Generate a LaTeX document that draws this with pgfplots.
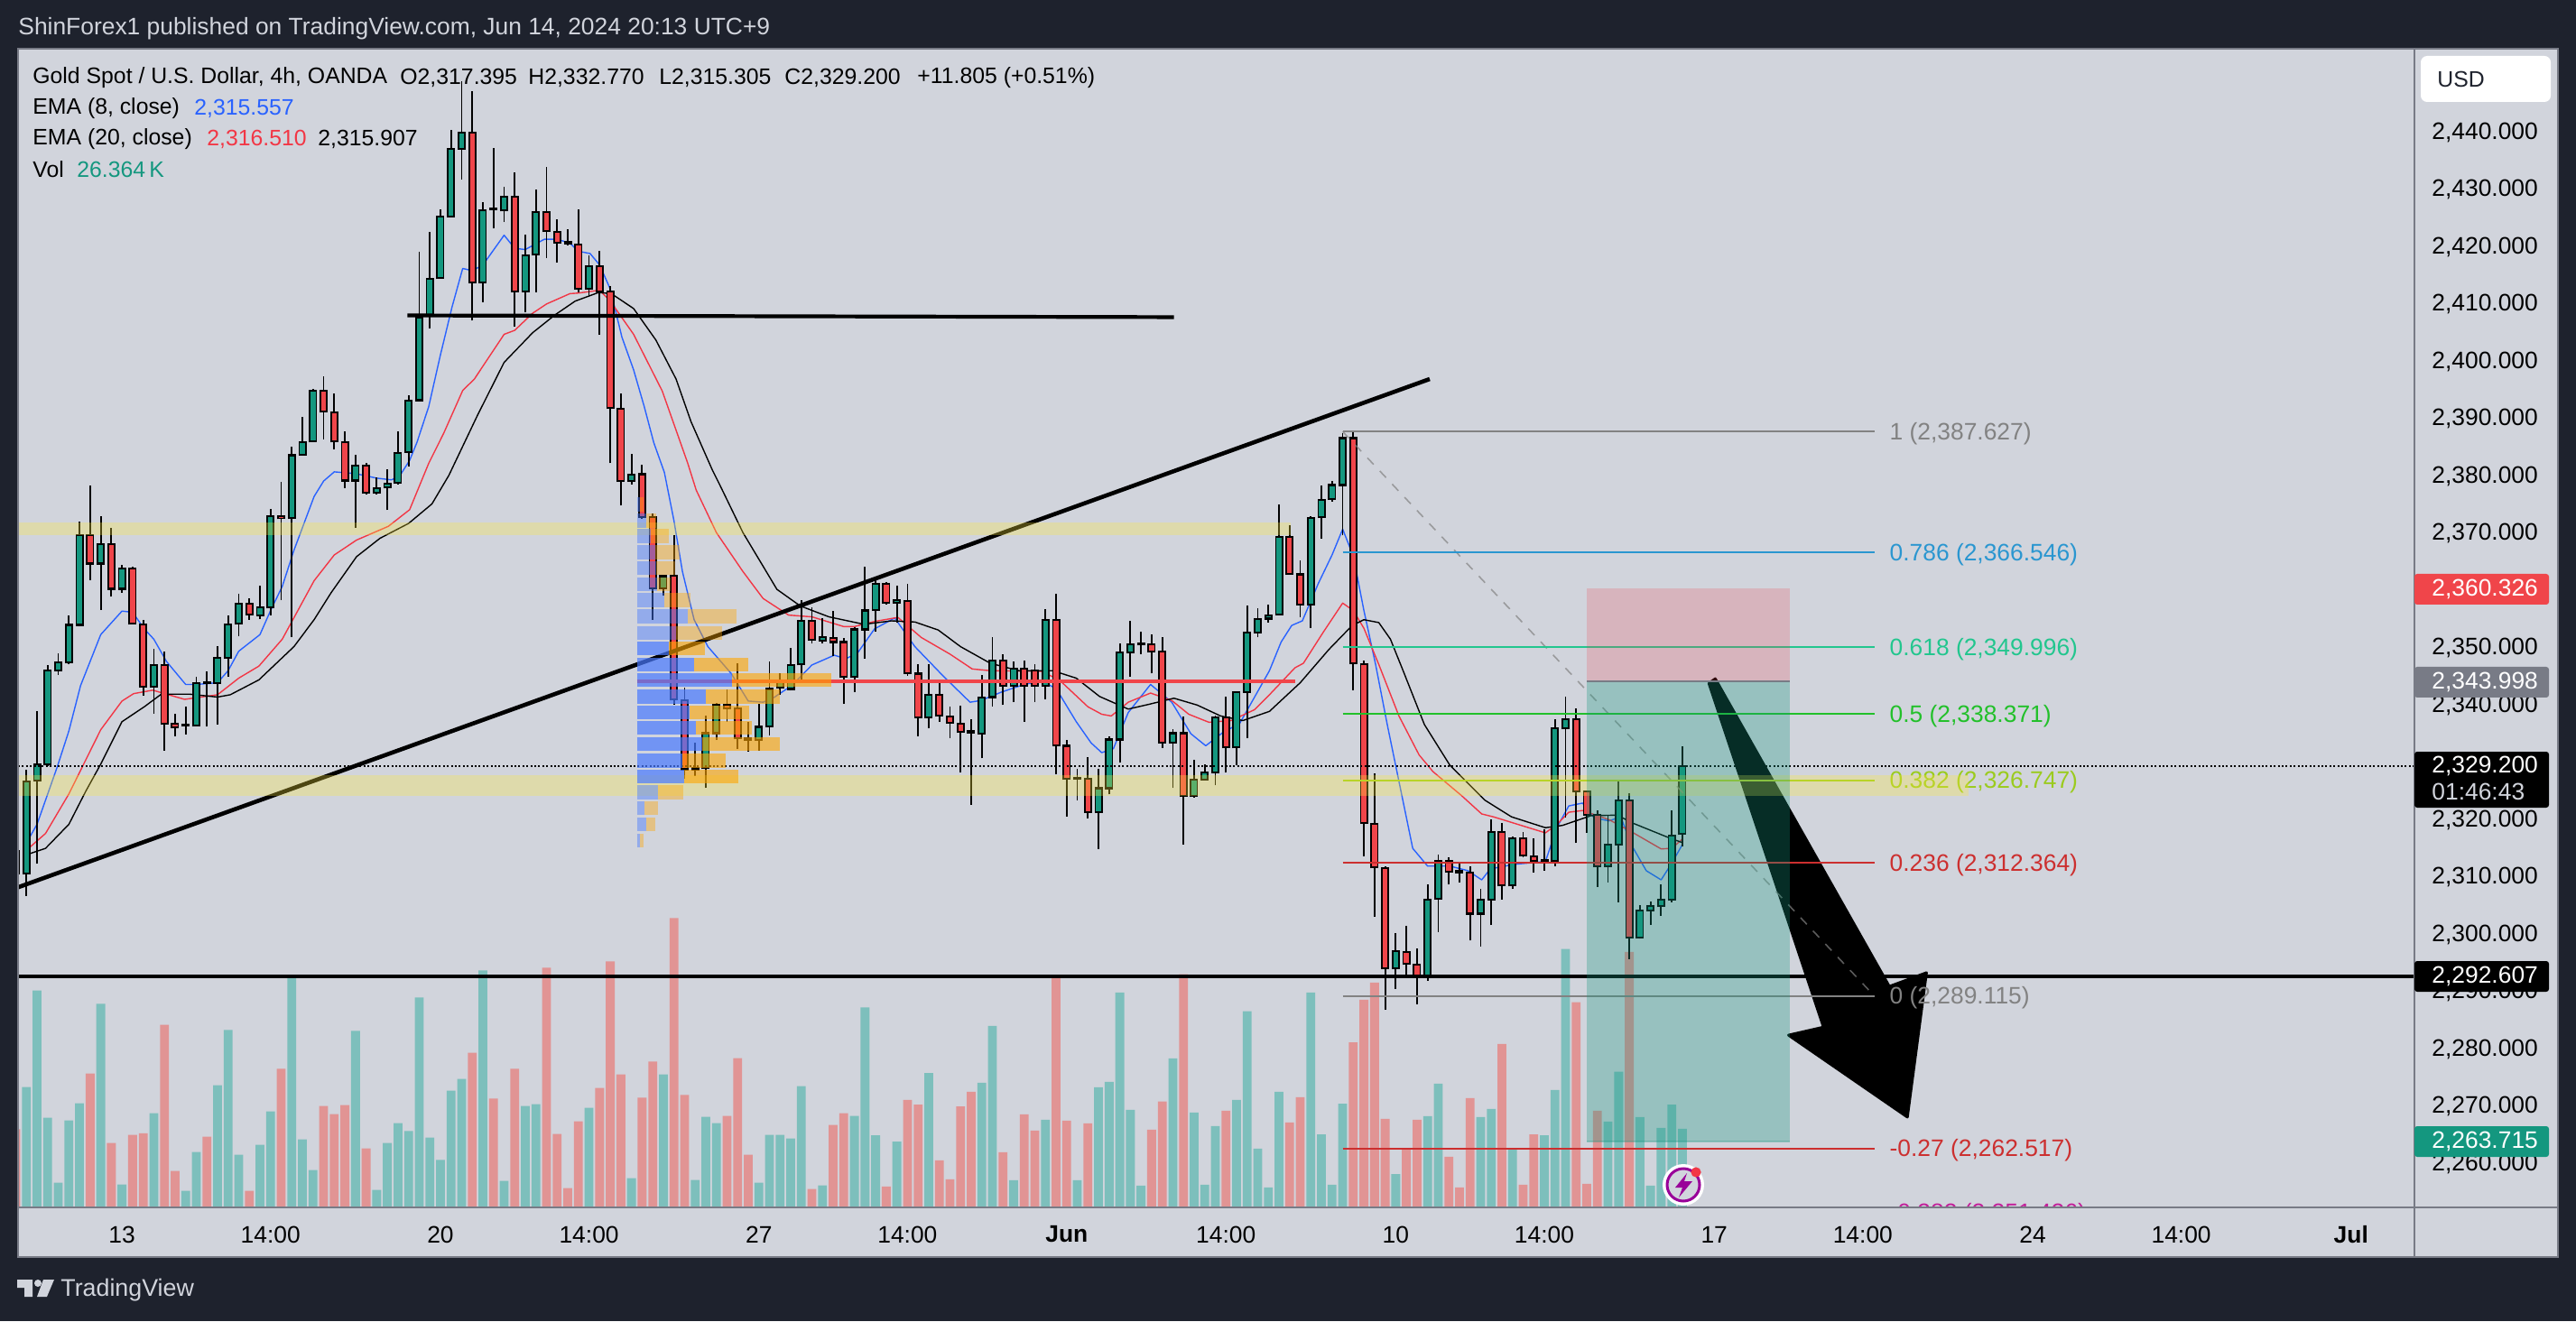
\documentclass[border=0pt]{standalone}
\usepackage{fontspec}
\setmainfont{Liberation Sans}
\usepackage{pgfplots}
\usepackage{pgfplotstable}
\pgfplotsset{compat=1.18}
\definecolor{dark}{HTML}{1E222D}
\definecolor{panel}{HTML}{D1D4DC}
\definecolor{edge}{HTML}{787B86}
\definecolor{up}{HTML}{14977F}
\definecolor{dn}{HTML}{F0454A}
\definecolor{volup}{HTML}{7DBFBC}
\definecolor{voldn}{HTML}{E19494}
\definecolor{emab}{HTML}{2962FF}
\definecolor{emar}{HTML}{F23645}
\definecolor{zone}{HTML}{FFE83C}
\definecolor{fgray}{HTML}{828282}
\definecolor{fblue}{HTML}{2A96D0}
\definecolor{fteal}{HTML}{22C68E}
\definecolor{fgreen}{HTML}{22C02A}
\definecolor{flime}{HTML}{9BCB1E}
\definecolor{fred}{HTML}{CC2F2F}
\definecolor{fpink}{HTML}{C2209A}
\pgfplotstableread{
i o h l c v
0 2310.5 2328.6 2306.6 2326.6 40.4
1 2326.7 2338.8 2312.2 2329.6 72.8
2 2329.6 2346.9 2329.2 2346.0 30.1
3 2346.0 2348.9 2345.2 2347.4 8.3
4 2347.4 2355.6 2347.1 2353.9 29.2
5 2353.9 2372.0 2353.6 2369.5 34.9
7 2364.6 2372.8 2356.5 2368.0 68.3
9 2360.2 2364.4 2359.5 2363.7 7.7
12 2343.1 2349.7 2338.4 2346.9 31.6
15 2336.3 2339.6 2334.8 2336.4 5.6
16 2336.3 2344.8 2336.2 2343.8 18.6
18 2343.8 2350.2 2336.5 2348.1 41.0
19 2348.1 2355.6 2344.8 2354.0 59.5
20 2354.1 2359.4 2351.9 2357.6 17.7
22 2355.6 2360.8 2354.9 2356.9 21.0
23 2356.9 2374.1 2355.6 2372.9 32.2
25 2372.5 2385.0 2351.8 2383.5 77.5
26 2383.6 2390.2 2383.5 2385.8 22.8
27 2385.9 2395.1 2385.8 2394.8 12.5
31 2379.1 2383.6 2370.8 2381.7 59.2
33 2376.9 2379.7 2376.7 2377.8 5.9
34 2377.9 2381.1 2373.9 2378.6 21.6
35 2378.7 2387.6 2378.4 2383.9 28.3
36 2384.1 2393.9 2381.6 2393.0 25.6
37 2393.1 2419.0 2393.0 2407.6 70.4
38 2407.8 2422.4 2405.7 2414.3 23.4
39 2414.4 2426.4 2414.3 2425.2 15.9
40 2425.2 2440.3 2425.1 2437.0 39.2
41 2437.0 2448.7 2431.6 2439.8 43.1
43 2413.7 2427.7 2410.2 2426.3 79.5
45 2426.2 2430.4 2424.2 2428.6 8.9
47 2412.1 2422.0 2408.4 2418.4 34.0
48 2418.5 2429.8 2412.0 2425.9 34.6
53 2412.6 2418.3 2411.2 2416.5 33.4
57 2379.0 2383.7 2378.4 2380.1 9.8
60 2360.3 2362.7 2359.0 2362.4 44.6
63 2328.7 2333.4 2327.5 2328.9 9.2
64 2328.9 2338.0 2325.4 2335.0 30.4
65 2335.0 2340.2 2333.8 2340.0 28.3
69 2333.8 2340.1 2332.0 2336.1 8.3
70 2336.2 2347.5 2334.6 2342.7 24.3
71 2342.9 2345.5 2341.7 2343.9 24.3
72 2342.7 2349.8 2342.4 2346.9 23.1
73 2347.0 2358.3 2343.8 2354.6 40.7
75 2351.2 2355.1 2350.6 2351.7 7.4
78 2344.8 2353.5 2342.2 2353.1 30.7
79 2353.1 2364.0 2348.0 2356.4 67.1
80 2356.5 2362.2 2352.7 2361.1 24.2
82 2357.8 2360.8 2354.3 2358.2 22.1
85 2337.8 2347.1 2335.9 2341.7 45.1
90 2334.9 2345.1 2330.6 2341.2 41.8
91 2341.3 2351.7 2339.7 2347.7 60.9
93 2343.3 2347.5 2340.4 2346.2 9.1
96 2343.3 2356.7 2340.9 2354.7 29.4
99 2327.0 2328.8 2323.3 2327.2 9.1
101 2321.2 2328.8 2314.8 2325.4 40.3
102 2325.4 2334.4 2324.3 2333.9 42.1
103 2333.9 2350.6 2329.8 2349.1 72.1
104 2349.1 2354.6 2344.8 2350.5 32.7
105 2350.5 2352.7 2348.8 2350.6 7.3
108 2333.4 2335.7 2325.4 2335.0 50.0
110 2324.0 2330.3 2323.8 2326.9 31.8
111 2326.9 2329.6 2326.8 2328.1 7.6
112 2328.2 2338.0 2325.9 2337.8 27.3
114 2332.5 2342.2 2329.4 2342.1 36.1
115 2342.2 2357.3 2334.1 2352.5 65.8
116 2352.6 2356.8 2351.7 2354.9 19.7
117 2355.0 2357.5 2354.3 2355.6 6.7
118 2355.7 2374.9 2355.6 2369.2 38.8
121 2357.5 2372.8 2353.4 2372.6 72.1
122 2372.7 2378.3 2369.0 2375.7 24.5
123 2375.8 2379.0 2375.4 2378.3 7.6
124 2378.3 2387.4 2369.5 2386.5 34.8
129 2294.0 2300.1 2290.4 2296.9 11.2
132 2292.6 2308.6 2291.8 2306.0 30.6
133 2306.1 2313.8 2300.3 2312.7 41.5
137 2303.5 2307.8 2297.8 2306.0 30.3
138 2306.0 2319.9 2301.5 2317.8 33.0
140 2308.4 2317.0 2307.8 2316.7 19.4
143 2312.6 2318.3 2311.0 2312.8 24.2
144 2312.7 2337.5 2311.8 2335.8 39.4
145 2335.8 2341.4 2320.2 2337.5 86.7
149 2311.8 2320.8 2309.0 2315.5 28.8
150 2315.6 2326.5 2305.5 2323.2 45.5
152 2299.3 2305.0 2299.1 2304.0 30.3
153 2304.1 2305.6 2301.5 2304.8 7.3
154 2304.8 2308.6 2303.1 2305.9 26.7
155 2305.9 2321.5 2305.5 2317.1 34.5
156 2317.395 2332.77 2315.305 2329.2 26.364
}\upT
\pgfplotstableread{
i o h l c v
-1 2314.4 2318.0 2307.0 2310.5 26.2
6 2369.5 2378.3 2361.7 2364.6 44.9
8 2368.0 2370.8 2358.8 2360.2 21.6
10 2363.7 2364.0 2354.0 2354.1 24.3
11 2354.0 2354.8 2341.6 2343.1 24.9
13 2346.9 2349.2 2332.0 2336.6 61.3
14 2336.6 2338.4 2334.5 2336.0 12.2
17 2343.9 2345.8 2336.1 2343.8 23.7
21 2357.6 2358.5 2354.8 2355.7 5.6
24 2372.9 2378.8 2358.2 2372.5 46.5
28 2394.8 2397.2 2386.3 2391.1 34.0
29 2391.0 2394.3 2384.5 2385.9 31.3
30 2385.8 2387.6 2377.8 2379.1 34.3
32 2381.7 2382.1 2376.6 2376.9 19.8
42 2439.8 2447.0 2407.0 2413.7 51.9
44 2426.6 2437.1 2423.1 2426.4 36.5
46 2428.6 2432.8 2405.9 2412.1 46.5
49 2425.9 2433.8 2417.9 2422.6 80.4
50 2422.5 2424.7 2417.1 2420.6 24.6
51 2420.7 2422.9 2420.1 2420.4 6.5
52 2420.3 2426.4 2411.9 2412.6 28.9
54 2416.5 2419.1 2404.5 2412.1 40.1
55 2412.1 2413.1 2382.1 2391.7 82.5
56 2391.6 2394.3 2374.7 2379.0 44.6
58 2380.2 2381.8 2372.4 2372.7 36.8
59 2372.7 2373.3 2354.8 2360.3 48.9
61 2362.5 2369.6 2340.0 2340.9 97.1
62 2340.8 2343.0 2327.0 2328.7 37.7
66 2340.0 2342.7 2337.0 2339.3 30.7
67 2339.3 2347.2 2332.2 2334.1 50.1
68 2334.1 2337.0 2331.8 2333.8 17.7
74 2354.6 2356.9 2350.6 2351.3 6.2
76 2351.6 2356.4 2348.5 2350.9 27.7
77 2350.9 2351.6 2340.1 2344.8 31.6
81 2361.1 2361.3 2357.5 2357.8 7.0
83 2358.1 2361.1 2345.0 2345.5 36.1
84 2345.4 2347.0 2334.5 2337.8 34.5
86 2341.7 2343.7 2337.0 2338.0 15.8
87 2337.9 2339.7 2334.1 2336.8 9.4
88 2336.7 2339.8 2328.1 2335.2 33.9
89 2335.4 2337.5 2322.5 2335.1 38.8
92 2347.7 2348.7 2339.9 2343.3 18.5
94 2346.2 2347.6 2337.0 2343.3 31.2
95 2345.9 2347.0 2340.4 2343.3 25.8
97 2354.7 2359.4 2327.8 2332.9 77.0
98 2332.8 2333.8 2320.4 2327.0 29.1
100 2327.0 2330.9 2320.1 2321.2 28.2
106 2350.5 2352.2 2345.4 2349.2 26.1
107 2349.2 2351.8 2332.4 2333.4 35.5
109 2335.0 2337.9 2315.6 2324.0 78.2
113 2337.8 2341.4 2328.1 2332.5 32.4
119 2369.2 2371.3 2362.7 2362.8 28.5
120 2362.7 2365.2 2355.3 2357.5 37.0
125 2386.5 2387.627 2342.5 2347.2 55.4
126 2347.1 2347.7 2313.5 2319.3 69.7
127 2319.2 2328.0 2303.0 2311.6 75.4
128 2311.5 2311.8 2286.7 2294.0 29.7
130 2296.8 2301.4 2292.9 2294.7 19.4
131 2294.6 2297.5 2287.7 2292.4 29.4
134 2312.7 2313.4 2308.6 2310.8 17.0
135 2310.9 2312.6 2308.9 2310.7 6.7
136 2310.7 2311.8 2298.8 2303.5 36.7
139 2317.8 2319.4 2306.0 2308.4 54.8
141 2316.7 2317.7 2313.4 2313.6 7.6
142 2313.5 2316.6 2310.7 2312.7 24.5
146 2337.5 2339.4 2315.8 2324.8 68.8
147 2324.8 2324.9 2317.6 2320.8 7.9
148 2320.7 2321.5 2308.2 2311.8 32.4
151 2323.2 2324.6 2295.6 2299.3 85.7
}\dnT
% EMA 8
\pgfplotstableread{
x y
0.2 2316.5
1.0 2319.1
2.9 2329.1
4.0 2335.4
5.1 2343.3
7.0 2352.2
9.0 2356.3
10.0 2356.1
11.1 2353.2
12.0 2351.4
13.2 2347.5
15.0 2343.5
16.0 2343.5
18.0 2343.8
19.0 2345.9
20.0 2349.3
22.0 2352.2
23.0 2356.4
24.1 2360.6
25.2 2366.9
27.1 2376.3
28.0 2379.0
29.0 2380.6
31.0 2380.3
33.0 2379.5
34.4 2379.2
35.2 2380.0
36.1 2382.6
36.8 2385.8
37.9 2392.0
39.0 2401.0
40.1 2409.4
41.1 2416.1
42.0 2415.7
43.0 2416.7
45.0 2421.9
46.0 2419.6
47.0 2419.4
48.8 2421.2
50.0 2421.2
51.2 2420.5
52.0 2419.1
53.1 2418.7
54.0 2416.7
55.0 2412.5
56.1 2404.1
57.2 2398.4
58.2 2392.0
59.1 2385.7
60.1 2380.5
61.0 2372.1
61.8 2363.2
62.9 2354.8
64.2 2350.1
66.4 2345.4
68.0 2340.6
69.4 2340.4
70.4 2341.2
72.1 2343.3
74.0 2346.9
76.1 2348.6
77.2 2348.0
78.3 2349.0
79.9 2353.2
81.8 2355.1
83.7 2350.1
86.4 2344.9
88.9 2340.4
89.9 2340.7
91.9 2342.2
94.0 2343.5
95.6 2344.1
97.0 2342.8
98.9 2337.0
100.3 2333.3
101.3 2331.6
102.4 2332.3
103.8 2338.6
105.9 2343.5
107.9 2340.4
109.7 2334.9
111.1 2332.8
112.7 2335.1
114.3 2336.7
117.1 2345.9
118.2 2350.9
119.2 2353.8
120.2 2354.6
121.7 2361.1
123.0 2366.1
124.0 2370.6
125.0 2365.9
126.0 2356.4
127.1 2347.0
128.2 2336.5
129.6 2323.9
130.6 2314.9
132.0 2311.8
134.1 2311.8
135.8 2311.0
137.1 2309.4
137.9 2311.3
140.1 2312.1
143.1 2312.6
144.2 2318.6
145.3 2322.3
146.6 2322.8
147.7 2320.2
149.1 2319.7
150.2 2320.4
151.2 2315.5
152.6 2311.0
154.0 2309.4
155.0 2312.3
156.0 2315.557
}\emaB
% EMA 20
\pgfplotstableread{
x y
0.2 2314.9
1.8 2317.5
4.0 2324.4
7.0 2335.6
9.0 2340.6
10.1 2341.9
11.9 2342.5
14.9 2340.9
18.0 2341.7
20.0 2344.6
21.9 2346.7
24.1 2351.4
27.1 2361.6
29.0 2366.1
31.1 2368.7
34.1 2371.1
36.1 2374.0
37.9 2382.1
39.3 2387.3
41.1 2394.8
42.2 2396.8
45.0 2404.6
46.0 2405.3
47.7 2408.3
49.0 2409.9
51.2 2411.7
52.0 2411.8
54.0 2412.3
55.0 2410.4
57.2 2404.6
59.9 2394.7
62.3 2382.1
63.1 2377.4
65.0 2370.0
67.5 2363.2
69.4 2358.5
71.8 2355.6
74.0 2355.3
77.0 2353.6
78.0 2353.6
79.9 2354.5
82.1 2355.2
84.3 2351.7
87.0 2348.8
89.1 2346.2
90.8 2345.9
95.6 2345.8
97.3 2344.3
100.0 2339.6
101.3 2338.3
102.2 2338.0
103.8 2340.4
105.9 2342.0
107.9 2340.7
109.5 2338.3
111.4 2336.9
113.5 2337.2
115.7 2339.1
117.1 2341.7
119.5 2346.4
120.3 2347.2
122.2 2352.7
124.0 2357.7
125.0 2356.4
126.0 2353.3
127.4 2347.0
129.3 2338.0
131.2 2331.2
132.5 2328.3
135.2 2324.1
137.1 2320.9
138.2 2320.4
143.1 2317.6
144.2 2319.1
145.3 2321.2
146.6 2321.5
149.1 2319.9
151.2 2317.8
154.0 2314.8
155.0 2314.9
156.0 2316.51
}\emaR
% EMA 20, smoothed
\pgfplotstableread{
x y
0.2 2313.9
1.8 2314.9
4.0 2319.1
5.6 2324.9
7.0 2329.6
9.0 2337.0
11.1 2339.6
12.7 2341.8
15.4 2341.8
18.0 2341.3
19.2 2341.7
21.9 2344.3
25.2 2350.1
27.1 2354.8
28.7 2359.5
31.1 2365.8
33.3 2369.0
36.0 2371.6
38.2 2375.0
39.8 2380.0
42.5 2390.5
45.0 2399.7
47.7 2404.9
49.8 2408.0
51.7 2410.4
53.9 2411.9
55.1 2411.7
57.2 2409.1
59.3 2403.6
61.2 2396.8
62.6 2389.4
64.6 2381.0
65.3 2378.4
67.5 2370.0
70.7 2360.1
72.9 2357.2
75.6 2355.3
78.9 2354.0
81.5 2354.6
83.7 2354.4
85.9 2353.0
88.0 2350.1
90.8 2347.2
93.5 2345.9
96.7 2345.9
98.9 2344.6
101.1 2341.4
103.8 2339.2
105.9 2340.1
108.1 2341.1
110.3 2339.9
112.5 2338.0
114.6 2337.2
117.1 2338.8
120.0 2343.8
122.7 2349.6
124.9 2353.8
126.0 2354.8
127.4 2354.3
128.5 2351.4
129.8 2345.4
131.7 2336.5
134.1 2329.4
137.4 2323.3
139.9 2320.4
143.1 2318.5
144.7 2318.9
147.4 2320.6
149.9 2320.7
151.2 2319.4
154.8 2316.7
156.0 2315.907
}\emaK
% volume profile: outer rows
\pgfplotstableread{
y b o
2374.9 57.8 58.1
2372.1 58.4 59.3
2369.4 58.8 60.5
2366.6 59.2 61.5
2363.8 59.3 61.1
2361.0 59.4 60.7
2358.2 60.1 62.6
2355.4 62.3 66.9
2352.5 61.2 65.5
2324.7 59.5 61.9
2321.9 58.2 59.5
2319.1 58.4 59.2
2316.3 57.8 58.1
}\vpOut
% volume profile: value area
\pgfplotstableread{
y b o
2349.8 60.5 63.9
2347.0 62.9 68.0
2344.3 66.5 75.8
2341.4 64.0 71.0
2338.6 62.5 68.1
2335.9 63.1 68.3
2333.1 63.7 71.0
2330.2 61.8 65.9
2327.4 62.0 67.1
}\vpVal
\newcommand\PX[2]{({(#1)*0.5pt},{(1464-(#2))*0.5pt})}
\newcommand\fs{\fontsize{13.2}{15.6}\selectfont}
\newcommand\fn{\fontsize{12.4}{15}\selectfont}
\tikzset{fl/.style={anchor=west,inner sep=0pt,font=\fs,text=#1},
  fn/.style={anchor=west,inner sep=0pt,font=\fn,text=#1},
  fb/.style={anchor=west,inner sep=0pt,font=\fs,text=#1,yshift=-1.1pt}}
\begin{document}
\begin{tikzpicture}
\fill[dark] (0,0) rectangle (1427pt,732pt);
\fill[panel] \PX{20}{54} rectangle \PX{2834}{1393};
\begin{axis}[
  at={(10pt,63pt)},anchor=south west,scale only axis,
  width=1327.5pt,height=642pt,
  xmin=-0.79,xmax=224.97,ymin=0,ymax=388.7,
  hide axis,
]
\addplot[ybar,bar shift=0pt,bar width=4.9pt,fill=volup,draw=none] table[x=i,y=v] {\upT};
\addplot[ybar,bar shift=0pt,bar width=4.9pt,fill=voldn,draw=none] table[x=i,y=v] {\dnT};
\end{axis}
\begin{axis}[
  at={(10pt,63pt)},anchor=south west,scale only axis,
  width=1327.5pt,height=642pt,
  xmin=-0.79,xmax=224.97,ymin=2252.24,ymax=2454.44,
  axis line style={draw=none},
  major tick length=0pt,
  xtick={9,23,39,53,69,83,98,113,129,143,159,173,189,203,219},
  xticklabels={13,14:00,20,14:00,27,14:00,\textbf{Jun},14:00,10,14:00,17,14:00,24,14:00,\textbf{Jul}},
  ytick={2260,2270,...,2440},
  yticklabel pos=right,xticklabel pos=lower,
  scaled y ticks=false,
  tick label style={font=\fs,inner sep=0pt,text=black},
  y tick label style={anchor=west,xshift=9.5pt,yshift=-0.5pt,
    /pgf/number format/.cd,fixed,fixed zerofill,precision=3,1000 sep={,},assume math mode=true},
  x tick label style={anchor=center,yshift=-15pt},
]
% EMA lines
\addplot[emab,line width=0.7pt,no markers,line join=round] table[x=x,y=y] {\emaB};
\addplot[emar,line width=0.7pt,no markers,line join=round] table[x=x,y=y] {\emaR};
\addplot[black,line width=0.7pt,no markers,line join=round] table[x=x,y=y] {\emaK};
% wicks
\pgfplotsset{wick/.style={draw=none,no markers,forget plot,error bars/.cd,y dir=plus,y explicit,error mark=none,error bar style={draw=black,solid,line width=0.9pt}}}
\addplot[wick] table[x=i,y=l,y error plus expr=\thisrow{h}-\thisrow{l}] {\upT};
\addplot[wick] table[x=i,y=l,y error plus expr=\thisrow{h}-\thisrow{l}] {\dnT};
% body outlines
\pgfplotsset{body/.style={draw=none,no markers,forget plot,error bars/.cd,y dir=plus,y explicit,error mark=none,error bar style={draw=#1,solid,line width=4.5pt}}}
\pgfplotsset{core/.style={draw=none,no markers,forget plot,error bars/.cd,y dir=plus,y explicit,error mark=none,error bar style={draw=#1,solid,line width=2.7pt}}}
\addplot[body=black] table[x=i,y expr=\thisrow{o}-0.17,y error plus expr=\thisrow{c}-\thisrow{o}+0.34] {\upT};
\addplot[body=black] table[x=i,y expr=\thisrow{c}-0.17,y error plus expr=\thisrow{o}-\thisrow{c}+0.34] {\dnT};
\addplot[core=up] table[x=i,y expr=\thisrow{o}+0.17,y error plus expr={max(\thisrow{c}-\thisrow{o}-0.34,0)}] {\upT};
\addplot[core=dn] table[x=i,y expr=\thisrow{c}+0.17,y error plus expr={max(\thisrow{o}-\thisrow{c}-0.34,0)}] {\dnT};
% current price
\addplot[black,line width=0.8pt,dash pattern=on 1pt off 1.2pt,no markers] coordinates {(-0.79,2329.2)(224.97,2329.2)};
% arrow
\addplot[fill=black,draw=black,line width=1.5pt,line join=round,no markers] coordinates {(159.1,2344.5)(175.5,2290.8)(179.0,2293.2)(177.2,2268.0)(166.0,2282.3)(169.3,2283.7)(158.5,2343.7)} -- cycle;
% drawn lines
\addplot[black,line width=2.3pt,no markers] coordinates {(-0.79,2308.1)(132.2,2396.8)};
\addplot[black,line width=2.1pt,no markers] coordinates {(35.9,2407.9)(108.1,2407.6)};
\addplot[black,line width=2.1pt,no markers] coordinates {(-0.79,2292.607)(224.97,2292.607)};
\addplot[dn,line width=2pt,no markers] coordinates {(57.5,2344.0)(119.5,2344.0)};
% fib levels
\addplot[fgray,line width=0.8pt,dash pattern=on 5pt off 5pt,opacity=.7,no markers] coordinates {(124,2387.627)(174.1,2289.115)};
\addplot[fgray,line width=1pt,no markers] coordinates {(124,2387.627)(174.1,2387.627)};
\addplot[fblue,line width=1pt,no markers] coordinates {(124,2366.546)(174.1,2366.546)};
\addplot[fteal,line width=1pt,no markers] coordinates {(124,2349.996)(174.1,2349.996)};
\addplot[fgreen,line width=1pt,no markers] coordinates {(124,2338.371)(174.1,2338.371)};
\addplot[flime,line width=1pt,no markers] coordinates {(124,2326.747)(174.1,2326.747)};
\addplot[fred,line width=1pt,no markers] coordinates {(124,2312.364)(174.1,2312.364)};
\addplot[fgray,line width=1pt,no markers] coordinates {(124,2289.115)(174.1,2289.115)};
\addplot[fred,line width=1pt,no markers] coordinates {(124,2262.517)(174.1,2262.517)};
\node[fb=fgray] at (axis cs:175.5,2387.627) {1 (2,387.627)};
\node[fb=fblue] at (axis cs:175.5,2366.546) {0.786 (2,366.546)};
\node[fb=fteal] at (axis cs:175.5,2349.996) {0.618 (2,349.996)};
\node[fb=fgreen] at (axis cs:175.5,2338.371) {0.5 (2,338.371)};
\node[fb=flime] at (axis cs:175.5,2326.747) {0.382 (2,326.747)};
\node[fb=fred] at (axis cs:175.5,2312.364) {0.236 (2,312.364)};
\node[fb=fgray] at (axis cs:175.5,2289.115) {0 (2,289.115)};
\node[fb=fred] at (axis cs:175.5,2262.517) {-0.27 (2,262.517)};
\node[fb=fpink] at (axis cs:175.5,2251.426) {-0.382 (2,251.426)};
% zones
\addplot[fill=zone,draw=none,fill opacity=.3,no markers] coordinates {(-0.79,2371.7)(119.1,2371.7)(119.1,2369.5)(-0.79,2369.5)} -- cycle;
\addplot[fill=zone,draw=none,fill opacity=.3,no markers] coordinates {(-0.79,2327.6)(183.0,2327.6)(183.0,2324.1)(-0.79,2324.1)} -- cycle;
% volume profile
\pgfplotsset{vp/.style 2 args={draw=none,no markers,forget plot,error bars/.cd,x dir=plus,x explicit,error mark=none,error bar style={draw=#1,solid,line width=7.7pt,opacity=#2}}}
\addplot[vp={emab!85!white}{0.45}] table[x expr=57.5,y=y,x error plus expr=\thisrow{b}-57.5] {\vpOut};
\addplot[vp={emab!85!white}{0.7}] table[x expr=57.5,y=y,x error plus expr=\thisrow{b}-57.5] {\vpVal};
\addplot[vp={orange!70!yellow}{0.4}] table[x=b,y=y,x error plus expr=\thisrow{o}-\thisrow{b}] {\vpOut};
\addplot[vp={orange!70!yellow}{0.6}] table[x=b,y=y,x error plus expr=\thisrow{o}-\thisrow{b}] {\vpVal};
% position box
\addplot[fill=emar,draw=none,fill opacity=.2,no markers] coordinates {(147,2360.326)(166.1,2360.326)(166.1,2343.998)(147,2343.998)} -- cycle;
\addplot[fill=up,draw=none,fill opacity=.3,no markers] coordinates {(147,2343.998)(166.1,2343.998)(166.1,2263.715)(147,2263.715)} -- cycle;
\addplot[edge,line width=1pt,no markers] coordinates {(147,2343.998)(166.1,2343.998)};
\addplot[up,opacity=.3,line width=1pt,no markers] coordinates {(147,2263.715)(166.1,2263.715)};
\end{axis}
% frame
\draw[edge,line width=0.7pt] \PX{20}{54} rectangle \PX{2834}{1393};
\draw[edge,line width=0.7pt] \PX{2675}{54} -- \PX{2675}{1393};
\draw[edge,line width=1pt] \PX{20}{1338} -- \PX{2834}{1338};
% header
\node[fl=panel] at \PX{20}{32} {ShinForex1 published on TradingView.com, Jun 14, 2024 20:13 UTC+9};
\node[fn=black] at \PX{36}{86} {Gold Spot / U.S. Dollar, 4h, OANDA};
\node[fn=black] at \PX{443}{86} {O2,317.395};
\node[fn=black] at \PX{585}{86} {H2,332.770};
\node[fn=black] at \PX{730}{86} {L2,315.305};
\node[fn=black] at \PX{869}{86} {C2,329.200};
\node[fn=black] at \PX{1016}{86} {+11.805 (+0.51\%)};
\node[fn=black] at \PX{36}{120} {EMA (8, close)};
\node[fn=emab] at \PX{215}{120} {2,315.557};
\node[fn=black] at \PX{36}{154} {EMA (20, close)};
\node[fn=emar] at \PX{229}{154} {2,316.510};
\node[fn=black] at \PX{352}{154} {2,315.907};
\node[fn=black] at \PX{36}{188} {Vol};
\node[fn=up] at \PX{85}{188} {26.364\,K};
% USD button
\fill[white,rounded corners=3.5pt] \PX{2682}{62} rectangle \PX{2826}{113};
\node[fn=dark] at \PX{2700}{88} {USD};
% price badges
\fill[dn,rounded corners=1.5pt] \PX{2675}{636} rectangle \PX{2824}{670};
\node[fl=white] at \PX{2694}{653} {2,360.326};
\fill[edge,rounded corners=1.5pt] \PX{2675}{739} rectangle \PX{2824}{773};
\node[fl=white] at \PX{2694}{756} {2,343.998};
\fill[black,rounded corners=1.5pt] \PX{2675}{833} rectangle \PX{2824}{895};
\node[fl=white] at \PX{2694}{849} {2,329.200};
\node[fl=panel] at \PX{2694}{877} {01:46:43};
\fill[black,rounded corners=1.5pt] \PX{2675}{1065} rectangle \PX{2824}{1099};
\node[fl=white] at \PX{2694}{1082} {2,292.607};
\fill[up,rounded corners=1.5pt] \PX{2675}{1248} rectangle \PX{2824}{1282};
\node[fl=white] at \PX{2694}{1265} {2,263.715};
% lightning badge
\fill[white] \PX{1865}{1313} circle (11.5pt);
\fill[panel] \PX{1865}{1313} circle (9.5pt);
\draw[violet!80!magenta,line width=1.5pt] \PX{1865}{1313} circle (9pt);
\fill[violet!80!magenta] \PX{1869}{1300} -- \PX{1856}{1316} -- \PX{1864}{1316} -- \PX{1860}{1327} -- \PX{1875}{1309} -- \PX{1866}{1309} -- cycle;
\fill[emar] \PX{1879}{1299} circle (2.8pt);
% footer logo
\fill[panel] \PX{19}{1418} -- \PX{36}{1418} -- \PX{36}{1437} -- \PX{27}{1437} -- \PX{27}{1427} -- \PX{19}{1427} -- cycle;
\fill[panel] \PX{42}{1422} circle (2pt);
\fill[panel] \PX{48}{1418} -- \PX{60}{1418} -- \PX{52}{1437} -- \PX{41}{1437} -- cycle;
\node[anchor=west,inner sep=0pt,text=panel,font=\fontsize{13.4}{16}\selectfont] at \PX{67}{1430} {TradingView};
\end{tikzpicture}
\end{document}
